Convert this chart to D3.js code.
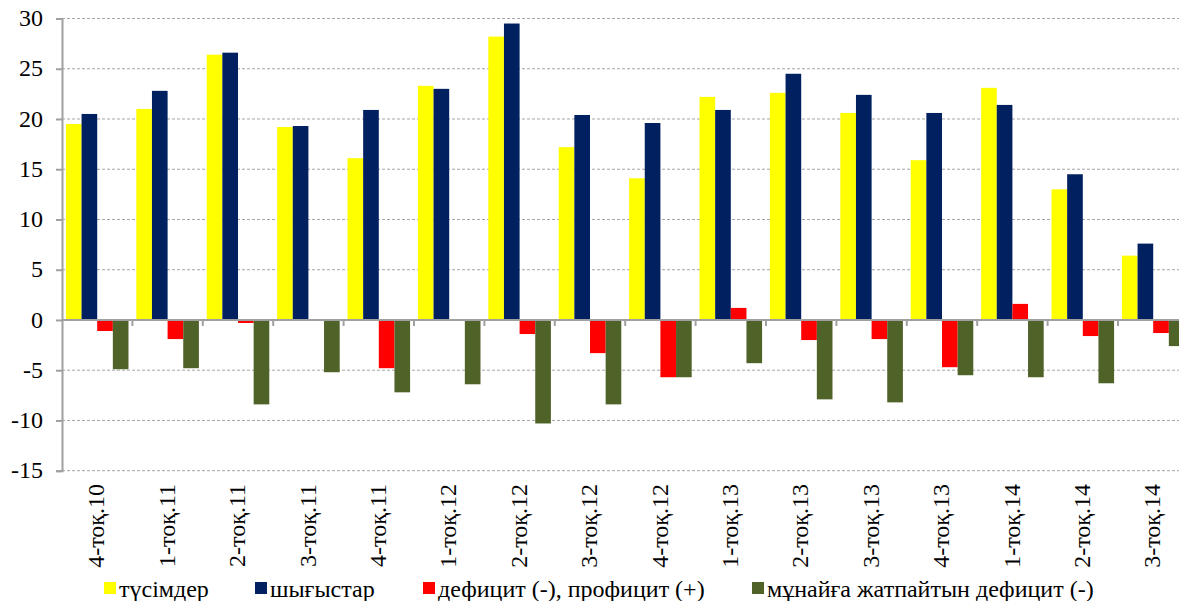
<!DOCTYPE html>
<html>
<head>
<meta charset="utf-8">
<script src="https://cdn.jsdelivr.net/npm/d3@7/dist/d3.min.js"></script>
</head>
<body style="margin:0">
<script>
// quarters
const quarters = ["4-тоқ.10", "1-тоқ.11", "2-тоқ.11", "3-тоқ.11", "4-тоқ.11", "1-тоқ.12", "2-тоқ.12", "3-тоқ.12",
    "4-тоқ.12", "1-тоқ.13", "2-тоқ.13", "3-тоқ.13", "4-тоқ.13", "1-тоқ.14", "2-тоқ.14", "3-тоқ.14"];

// series values
const revenues = [19.5, 21.0, 26.4, 19.2, 16.1, 23.3, 28.2, 17.2, 14.1, 22.2, 22.6, 20.6, 15.9, 23.1, 13.0, 6.4];
const expenses = [20.5, 22.8, 26.6, 19.3, 20.9, 23.0, 29.5, 20.4, 19.6, 20.9, 24.5, 22.4, 20.6, 21.4, 14.5, 7.6];
const balance = [-1.1, -1.9, -0.3, -0.1, -4.8, -0.05, -1.4, -3.3, -5.7, 1.2, -2.0, -1.9, -4.7, 1.6, -1.6, -1.3];
const nonOil = [-4.9, -4.8, -8.4, -5.2, -7.2, -6.4, -10.3, -8.4, -5.7, -4.3, -7.9, -8.2, -5.5, -5.7, -6.3, -2.6];

const seriesNames = ["түсімдер", "шығыстар", "дефицит (-), профицит (+)", "мұнайға жатпайтын дефицит (-)"];
const seriesColors = ["#ffff00", "#002060", "#ff0000", "#4f6228"];
const yTicks = [-15, -10, -5, 0, 5, 10, 15, 20, 25, 30];

const series = [revenues, expenses, balance, nonOil];

const width = 1179;
const height = 601;
const serif = "Times New Roman";

const svg = d3.select("body")
    .append("svg")
    .attr("width", width)
    .attr("height", height)
    .style("display", "block");

// plot runs a bit past the right edge, like the cropped original
const left = 62, right = 62 + 16 * 70.4;

const x = d3.scaleBand()
    .domain(quarters)
    .range([left, right])
    .paddingInner(0)
    .paddingOuter(0);

const xs = d3.scaleBand()
    .domain(d3.range(series.length))
    .range([0, x.bandwidth()])
    .paddingOuter(0.25)
    .paddingInner(0);

const y = d3.scaleLinear()
    .domain([-15, 30])
    .range([470.7, 18.5]);

// dashed gridlines
svg.append("g")
    .selectAll("line")
    .data(yTicks.filter(d => d !== 0))
    .join("line")
    .attr("x1", left)
    .attr("x2", right)
    .attr("y1", d => y(d))
    .attr("y2", d => y(d))
    .attr("stroke", "#a6a6a6")
    .attr("stroke-width", 1)
    .attr("stroke-dasharray", "3,2");

// bars
series.forEach((vals, si) => {
    svg.append("g")
        .selectAll("rect")
        .data(vals)
        .join("rect")
        .attr("x", (d, i) => x(quarters[i]) + xs(si))
        .attr("width", xs.bandwidth())
        .attr("y", d => y(Math.max(0, d)))
        .attr("height", d => Math.abs(y(d) - y(0)))
        .attr("fill", seriesColors[si]);
});

// y axis, labels drawn by hand so the font is set on each text
const yAxis = svg.append("g")
    .attr("transform", `translate(${left},0)`)
    .call(d3.axisLeft(y).tickValues(yTicks).tickSize(6).tickFormat(""));
yAxis.select(".domain").attr("stroke", "#a0a0a0").attr("stroke-width", 2);
yAxis.selectAll(".tick line").attr("stroke", "#a0a0a0").attr("stroke-width", 2);

svg.append("g")
    .selectAll("text")
    .data(yTicks)
    .join("text")
    .attr("x", left - 19)
    .attr("y", d => y(d))
    .attr("dy", "0.32em")
    .attr("text-anchor", "end")
    .style("font-family", serif)
    .style("font-size", "24px")
    .text(d => d);

// zero line with category ticks
svg.append("line")
    .attr("x1", left)
    .attr("x2", right)
    .attr("y1", y(0))
    .attr("y2", y(0))
    .attr("stroke", "#a0a0a0")
    .attr("stroke-width", 2);

svg.append("g")
    .selectAll("line")
    .data(quarters.slice(1))
    .join("line")
    .attr("x1", d => x(d))
    .attr("x2", d => x(d))
    .attr("y1", y(0))
    .attr("y2", y(0) + 6)
    .attr("stroke", "#a0a0a0")
    .attr("stroke-width", 2);

// rotated category labels
svg.append("g")
    .selectAll("text")
    .data(quarters)
    .join("text")
    .attr("transform", d => `translate(${x(d) + x.bandwidth() / 2},484) rotate(-90)`)
    .attr("text-anchor", "end")
    .attr("dy", "0.3em")
    .style("font-family", serif)
    .style("font-size", "24px")
    .text(d => d);

// legend
const legendX = [104, 255, 423, 752];
const legend = svg.append("g")
    .selectAll("g")
    .data(seriesNames)
    .join("g")
    .attr("transform", (d, i) => `translate(${legendX[i]},0)`);

legend.append("rect")
    .attr("x", 0)
    .attr("y", 582)
    .attr("width", 12)
    .attr("height", 12)
    .attr("fill", (d, i) => seriesColors[i]);

legend.append("text")
    .attr("x", 15)
    .attr("y", 597)
    .style("font-family", serif)
    .style("font-size", "24px")
    .text(d => d);
</script>
</body>
</html>
